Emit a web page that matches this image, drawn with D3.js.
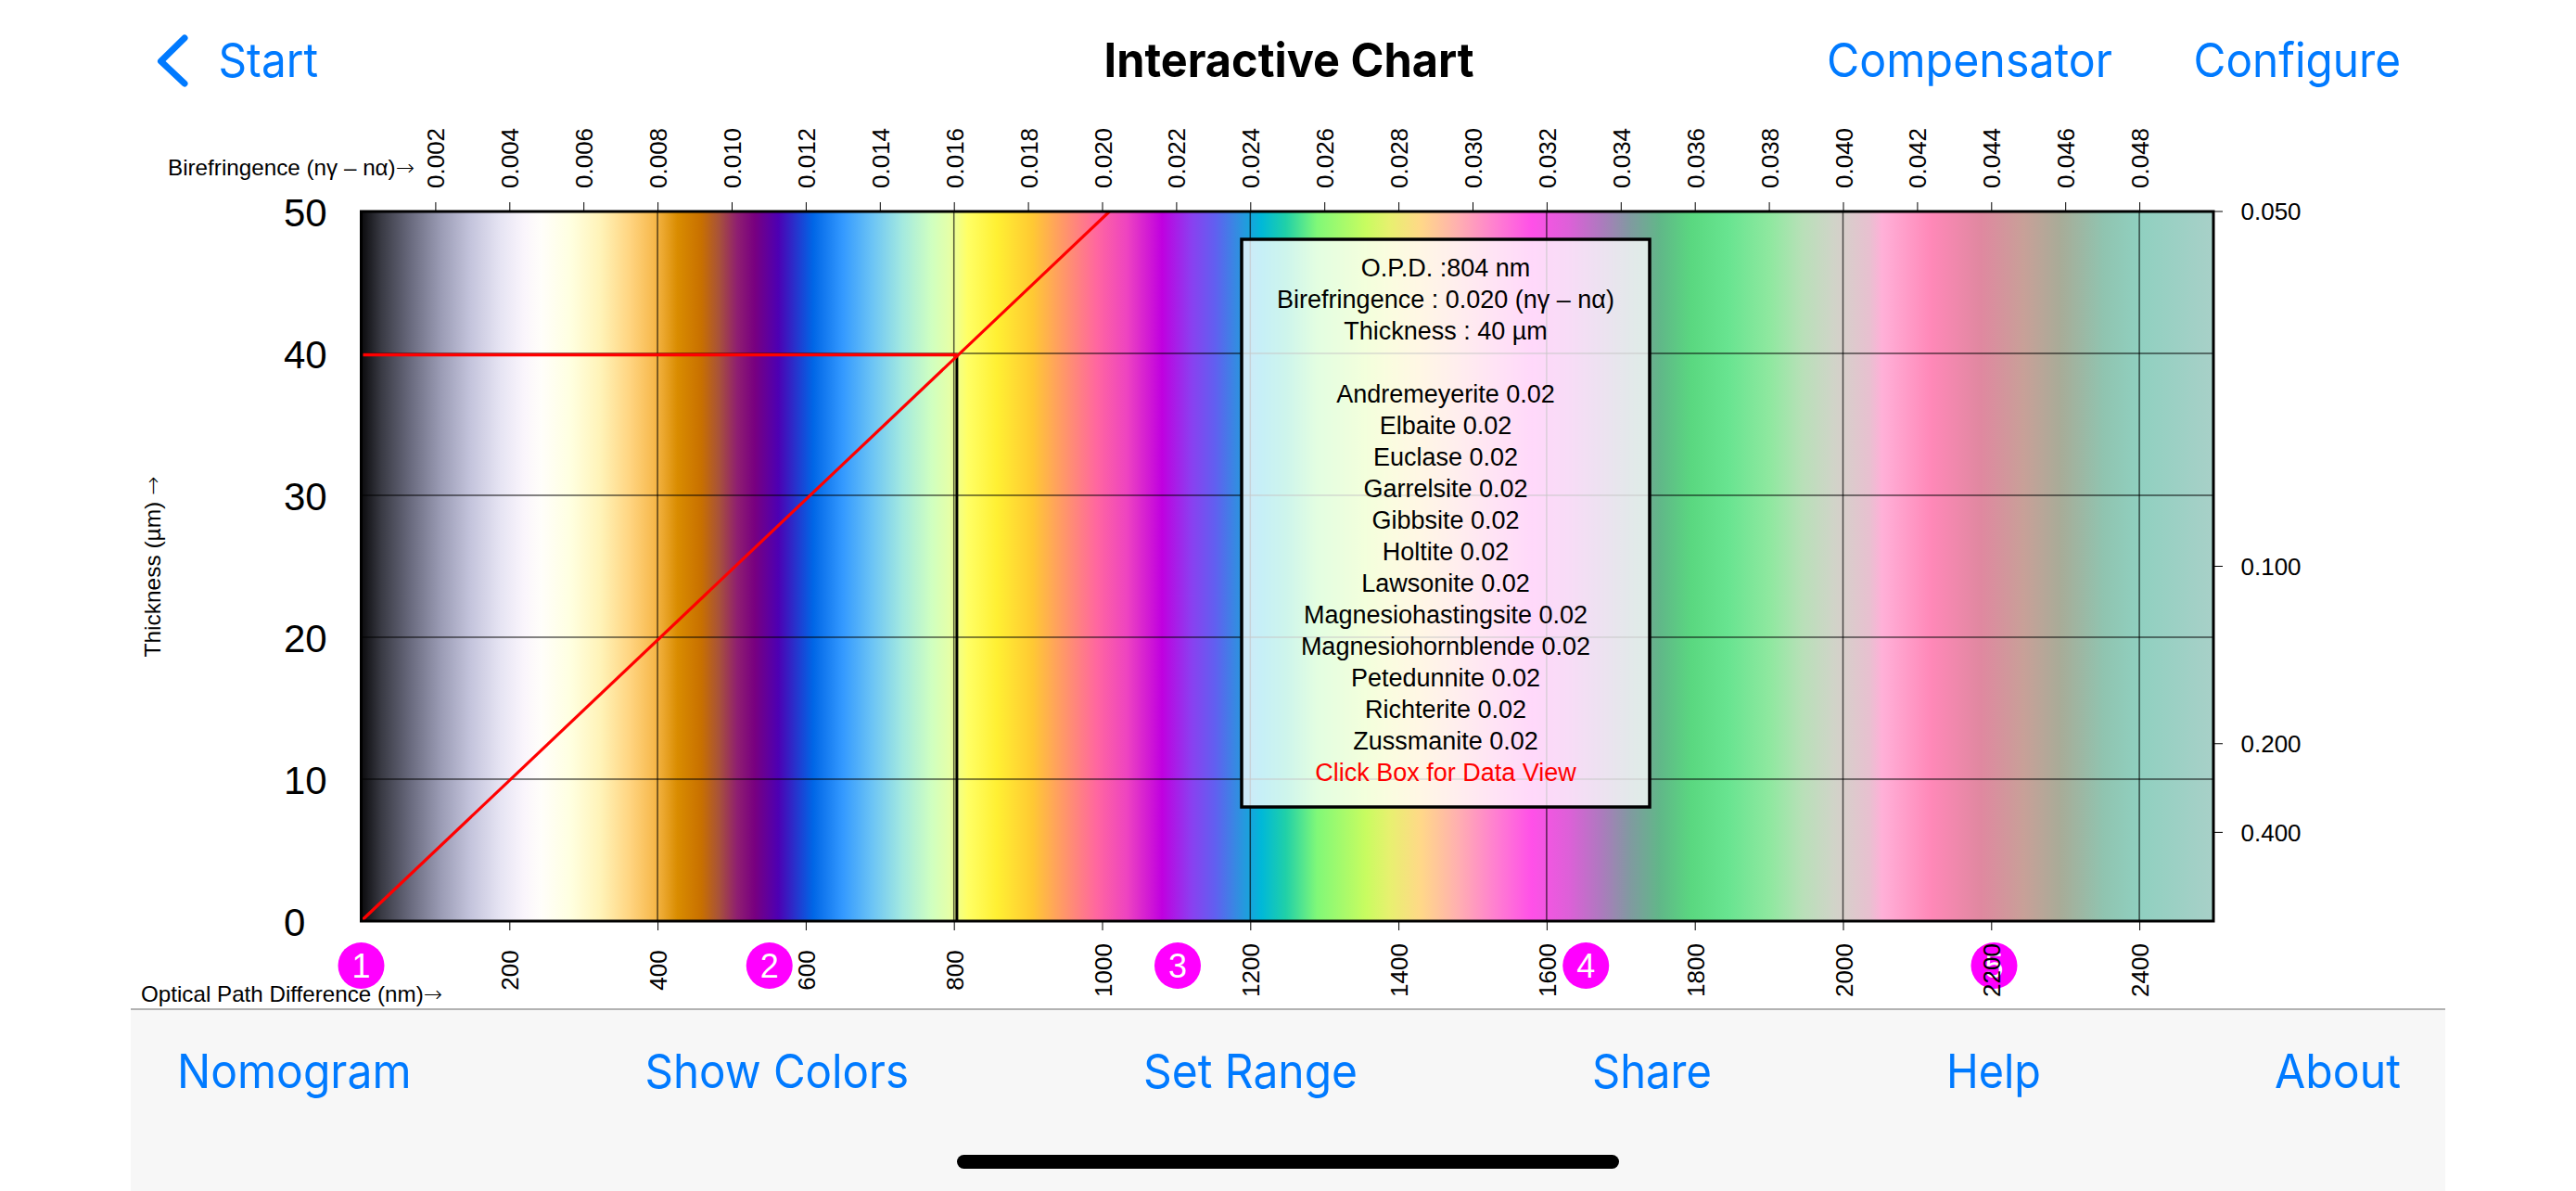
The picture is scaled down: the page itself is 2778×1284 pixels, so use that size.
<!DOCTYPE html>
<html>
<head>
<meta charset="utf-8">
<script src="https://cdn.jsdelivr.net/npm/d3@7/dist/d3.min.js"></script>
<style>
html,body{margin:0;padding:0;background:#fff;overflow:hidden}
svg{display:block}
text{font-family:"Liberation Sans",Arial,sans-serif}
.ui{font-family:Inter,"Liberation Sans",sans-serif}
.arrow{font-family:"DejaVu Sans",sans-serif;font-weight:200}
</style>
</head>
<body>
<div id="chart"></div>
<script>
// ---- data ----
const opdTicks = [200,400,600,800,1000,1200,1400,1600,1800,2000,2200,2400];
const bireTicks = [0.002,0.004,0.006,0.008,0.010,0.012,0.014,0.016,0.018,0.020,0.022,0.024,0.026,0.028,0.030,0.032,0.034,0.036,0.038,0.040,0.042,0.044,0.046,0.048];
const thicknessTicks = [0,10,20,30,40,50];
const rightBireTicks = [0.050,0.100,0.200,0.400];
const opdGridLines = [400,800,1200,1600,2000,2400];
const thicknessGridLines = [10,20,30,40];
const orderMarkers = [0,551,1102,1653,2204];
const orderLabels = ["1","2","3","4","5"];
const colorOpd = [0,28,68,108,148,188,220,243,283,323,363,395,427,459,483,507,531,563,610,650,690,730,770,794,818,858,906,946,993,1033,1081,1121,1153,1185,1215,1248,1290,1356,1389,1430,1480,1530,1580,1630,1671,1713,1754,1796,1845,1903,1945,1987,2036,2053,2119,2186,2244,2294,2352,2401,2500];
const colorHex = ["#0a0a0c","#3a3b45","#6b6c80","#9b9cb5","#c4c4dc","#e6e4f3","#faf5fc","#fffefa","#ffffe0","#fff3b8","#ffd480","#f7b94d","#d98c00","#c87000","#a8523a","#8f1f70","#780080","#4d00b3","#0066e6","#3399ff","#6cc4f5","#a3e9e0","#d0ffc0","#e5ffa8","#ffff66","#fff033","#ffc933","#ff9966","#ff66a0","#ee44c0","#c000e0","#8a40f0","#6060f0","#2f90e0","#00b8d8","#20d0a8","#80f878","#c8fc60","#e8f070","#ffd888","#ffb0b0","#ff80d0","#ff50e8","#dd60d8","#b078c0","#809aa0","#60b888","#5ad880","#68e490","#90e8a0","#b8e0b8","#d0d4c8","#e8c0d0","#ffb0d8","#ff88b8","#e088a0","#c8a098","#a8ac98","#90c4b0","#90d0c0","#a8d0c8"];
const selectedOpd = 804;
const selectedThickness = 39.9;
const selectedBire = 0.0202;
const infoHead = ["O.P.D. :804 nm","Birefringence : 0.020 (nγ – nα)","Thickness : 40 µm",""];
const minerals = ["Andremeyerite 0.02","Elbaite 0.02","Euclase 0.02","Garrelsite 0.02","Gibbsite 0.02","Holtite 0.02","Lawsonite 0.02","Magnesiohastingsite 0.02","Magnesiohornblende 0.02","Petedunnite 0.02","Richterite 0.02","Zussmanite 0.02"];
const clickHint = "Click Box for Data View";

// ---- layout ----
const W=2778,H=1284;
const L=389.5,R=2387,T=228,B=993;
const svg=d3.select("#chart").append("svg").attr("width",W).attr("height",H).attr("viewBox",`0 0 ${W} ${H}`);
const x=d3.scaleLinear().domain([0,2500]).range([L,R]);
const xb=d3.scaleLinear().domain([0,0.05]).range([L,R]);
const y=d3.scaleLinear().domain([0,50]).range([B,T]);
const maxOpd=2500;

// toolbar
svg.append("rect").attr("x",141).attr("y",1088).attr("width",2496).attr("height",196).attr("fill","#f7f7f7");
svg.append("line").attr("x1",141).attr("x2",2637).attr("y1",1088).attr("y2",1088).attr("stroke","#b2b2b2").attr("stroke-width",2);
svg.append("rect").attr("x",1032).attr("y",1245).attr("width",714).attr("height",15).attr("rx",7.5).attr("fill","#000");

// colour band
const defs=svg.append("defs");
const grad=defs.append("linearGradient").attr("id","mlc").attr("gradientUnits","userSpaceOnUse")
  .attr("x1",x(0)).attr("x2",x(maxOpd)).attr("y1",0).attr("y2",0);
grad.selectAll("stop").data(colorOpd).join("stop")
  .attr("offset",d=>d/maxOpd).attr("stop-color",(d,i)=>colorHex[i]);
svg.append("rect").attr("x",x(0)).attr("y",y(50)).attr("width",x(maxOpd)-x(0)).attr("height",y(0)-y(50)).attr("fill","url(#mlc)");

// grid
const gridColor="rgba(0,0,0,0.65)";
svg.append("g").selectAll("line").data(opdGridLines).join("line")
  .attr("x1",d=>x(d)).attr("x2",d=>x(d)).attr("y1",y(0)).attr("y2",y(50)).attr("stroke",gridColor).attr("stroke-width",1.5);
svg.append("g").selectAll("line").data(thicknessGridLines).join("line")
  .attr("x1",x(0)).attr("x2",x(maxOpd)).attr("y1",d=>y(d)).attr("y2",d=>y(d)).attr("stroke",gridColor).attr("stroke-width",1.5);

// selection lines
svg.append("line").attr("x1",x(selectedOpd)).attr("x2",x(selectedOpd)).attr("y1",y(selectedThickness)).attr("y2",y(0)).attr("stroke","#000").attr("stroke-width",3);
svg.append("line").attr("x1",x(0)).attr("x2",x(selectedBire*50*1000)).attr("y1",y(0)).attr("y2",y(50)).attr("stroke","#ff0000").attr("stroke-width",3.2);
svg.append("line").attr("x1",x(0)+2).attr("x2",x(selectedOpd)).attr("y1",y(selectedThickness)).attr("y2",y(selectedThickness)).attr("stroke","#ff0000").attr("stroke-width",3.5);

// frame
svg.append("rect").attr("x",x(0)).attr("y",y(50)).attr("width",x(maxOpd)-x(0)).attr("height",y(0)-y(50)).attr("fill","none").attr("stroke","#000").attr("stroke-width",3);

// order markers
const mg=svg.append("g").selectAll("g").data(orderMarkers).join("g").attr("transform",d=>`translate(${x(d)},1041)`);
mg.append("circle").attr("r",25).attr("fill","#ff00ff");
mg.append("text").attr("text-anchor","middle").attr("dy","0.36em").attr("font-size",36).attr("fill","#fff").text((d,i)=>orderLabels[i]);

// bottom axis
const axB=svg.append("g").attr("transform",`translate(0,${B})`).call(d3.axisBottom(x).tickValues(opdTicks).tickSize(10).tickFormat(d3.format("d")));
axB.select(".domain").remove();
axB.selectAll("line").attr("stroke","#000").attr("stroke-width",1);
axB.selectAll("text").attr("font-size",26).attr("fill","#000").attr("font-family","Liberation Sans")
  .attr("text-anchor","middle").attr("dy",0).attr("y",0).attr("x",0)
  .attr("transform","translate(9.5,53) rotate(-90)");

// top axis
const axT=svg.append("g").attr("transform",`translate(0,${T-1})`).call(d3.axisTop(xb).tickValues(bireTicks).tickSize(9).tickFormat(d3.format(".3f")));
axT.select(".domain").remove();
axT.selectAll("line").attr("stroke","#000").attr("stroke-width",1);
axT.selectAll("text").attr("font-size",26).attr("fill","#000").attr("font-family","Liberation Sans")
  .attr("text-anchor","start").attr("dy",0).attr("y",0).attr("x",0)
  .attr("transform","translate(9.5,-24) rotate(-90)");

// left axis
const axL=svg.append("g").attr("transform",`translate(306,0)`).call(d3.axisLeft(y).tickValues(thicknessTicks).tickSize(0).tickPadding(0).tickFormat(d3.format("d")));
axL.select(".domain").remove();
axL.selectAll("text").attr("font-size",42).attr("fill","#000").attr("font-family","Liberation Sans").attr("text-anchor","start").attr("x",0).attr("dy","0.36em");

// right axis (birefringence along the right-hand edge)
const yRight=b=>y(maxOpd/(1000*b));
const rg=svg.append("g").selectAll("g").data(rightBireTicks).join("g").attr("transform",d=>`translate(${R},${yRight(d)})`);
rg.append("line").attr("x1",0).attr("x2",10).attr("stroke","#000").attr("stroke-width",1);
rg.append("text").attr("x",29.5).attr("dy","0.36em").attr("font-size",26).attr("fill","#000").text(d=>d3.format(".3f")(d));

// axis titles
function title(sel,txt,len){
  sel.attr("font-size",24).attr("textLength",len).attr("lengthAdjust","spacingAndGlyphs");
  sel.append("tspan").text(txt);
  sel.append("tspan").attr("class","arrow").text("→");
}
title(svg.append("text").attr("x",181).attr("y",189),"Birefringence (nγ – nα)",266);
title(svg.append("text").attr("x",152).attr("y",1080),"Optical Path Difference (nm)",325);
title(svg.append("text").attr("transform","translate(173,611) rotate(-90)").attr("text-anchor","middle"),"Thickness (µm) ",195);

// info box
svg.append("rect").attr("x",1339).attr("y",258).attr("width",440).attr("height",612).attr("fill","rgba(255,255,255,0.78)").attr("stroke","#000").attr("stroke-width",3.5);
const infoLines=[...infoHead,...minerals,clickHint];
svg.append("g").selectAll("text").data(infoLines).join("text")
  .attr("x",1559).attr("y",(d,i)=>288+34*i).attr("dy","0.36em").attr("text-anchor","middle").attr("font-size",27)
  .attr("fill",d=>d===clickHint?"#ff0000":"#000").text(d=>d);

// navigation
const blue="#007aff";
const navTop=[["Start",235.5,343],["Compensator",1970,2278],["Configure",2365.5,2589]];
const navBottom=[["Nomogram",191,443.5],["Show Colors",695.5,980],["Set Range",1233,1464],["Share",1717,1846],["Help",2099,2201],["About",2453,2589]];
const nav=(rows,base)=>svg.append("g").selectAll("text").data(rows).join("text").attr("class","ui")
  .attr("x",d=>d[1]).attr("y",base).attr("font-size",51).attr("fill",blue)
  .attr("textLength",d=>d[2]-d[1]).attr("lengthAdjust","spacingAndGlyphs").text(d=>d[0]);
nav(navTop,83);nav(navBottom,1173);
svg.append("text").attr("class","ui").attr("x",1390).attr("y",83).attr("text-anchor","middle").attr("font-size",51).attr("font-weight",700)
  .attr("textLength",399).attr("lengthAdjust","spacingAndGlyphs").attr("fill","#000").text("Interactive Chart");
svg.append("path").attr("d",d3.line()([[199,41],[173.5,66],[199,90]])).attr("fill","none").attr("stroke",blue).attr("stroke-width",7).attr("stroke-linecap","round").attr("stroke-linejoin","round");
</script>
</body>
</html>
